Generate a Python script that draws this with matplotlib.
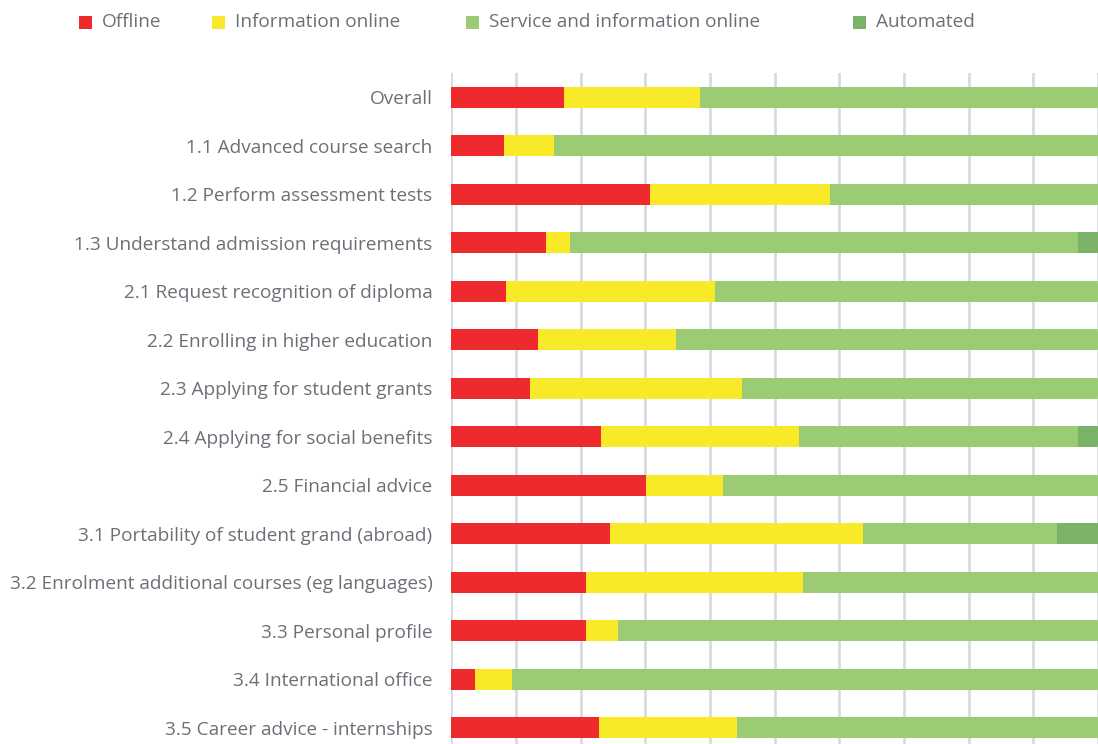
import matplotlib
matplotlib.use("Agg")
import matplotlib.pyplot as plt
from matplotlib.patches import Rectangle
import numpy as np

categories = [
    "Overall",
    "1.1 Advanced course search",
    "1.2 Perform assessment tests",
    "1.3 Understand admission requirements",
    "2.1 Request recognition of diploma",
    "2.2 Enrolling in higher education",
    "2.3 Applying for student grants",
    "2.4 Applying for social benefits",
    "2.5 Financial advice",
    "3.1 Portability of student grand (abroad)",
    "3.2 Enrolment additional courses (eg languages)",
    "3.3 Personal profile",
    "3.4 International office",
    "3.5 Career advice - internships",
]
series_names = ["Offline", "Information online", "Service and information online", "Automated"]
offline = [17.5, 8.1, 30.8, 14.7, 8.5, 13.4, 12.2, 23.2, 30.1, 24.5, 20.9, 20.9, 3.7, 22.8]
info_online = [21.0, 7.8, 27.8, 3.6, 32.3, 21.3, 32.7, 30.5, 11.9, 39.2, 33.5, 4.8, 5.7, 21.4]
service_online = [61.5, 84.1, 41.4, 78.6, 59.2, 65.3, 55.1, 43.2, 58.0, 29.9, 45.6, 74.3, 90.6, 55.8]
automated = [0, 0, 0, 3.1, 0, 0, 0, 3.1, 0, 6.4, 0, 0, 0, 0]
colors = ["#EE2A2E", "#F9EA29", "#9BCB73", "#7AB367"]

W, H = 1098, 744
fig = plt.figure(figsize=(W / 100, H / 100), dpi=100)
font = "Open Sans"
text_color = "#6B7077"
fs = 13.7

left_px, top_px, bottom_px = 451.3, 73, 752
ax = fig.add_axes([left_px / W, (H - bottom_px) / H, 1 - left_px / W, (bottom_px - top_px) / H])

y = np.arange(len(categories))
left = np.zeros(len(categories))
for vals, c, name in zip([offline, info_online, service_online, automated], colors, series_names):
    vals = np.array(vals, dtype=float)
    ax.barh(y, vals, left=left, height=0.43, color=c, edgecolor="none", zorder=3, label=name)
    left += vals

ax.set_ylim(len(categories) - 0.5, -0.5)
ax.set_xlim(0, 99.1)
ax.set_xticks(np.arange(0, 101, 10))
ax.xaxis.grid(True, color="#D6D9DF", linewidth=1.9, zorder=0)
ax.set_axisbelow(True)
ax.tick_params(axis="x", length=0, labelbottom=False)
ax.tick_params(axis="y", length=0, pad=13.5, labelsize=fs, labelcolor=text_color)
ax.set_yticks(y)
ax.set_yticklabels(categories, fontfamily=font)
for s in ax.spines.values():
    s.set_visible(False)

# legend
leg_x = [79, 212, 466, 853]
for xp, c, name in zip(leg_x, colors, series_names):
    fig.patches.append(Rectangle((xp / W, 1 - 29 / H), 13 / W, 13 / H, transform=fig.transFigure,
                                 facecolor=c, edgecolor="none"))
    fig.text((xp + 23) / W, 1 - 22 / H, name, fontsize=fs, color=text_color, fontfamily=font,
             va="center", ha="left")

fig.savefig("out.png", dpi=100)
